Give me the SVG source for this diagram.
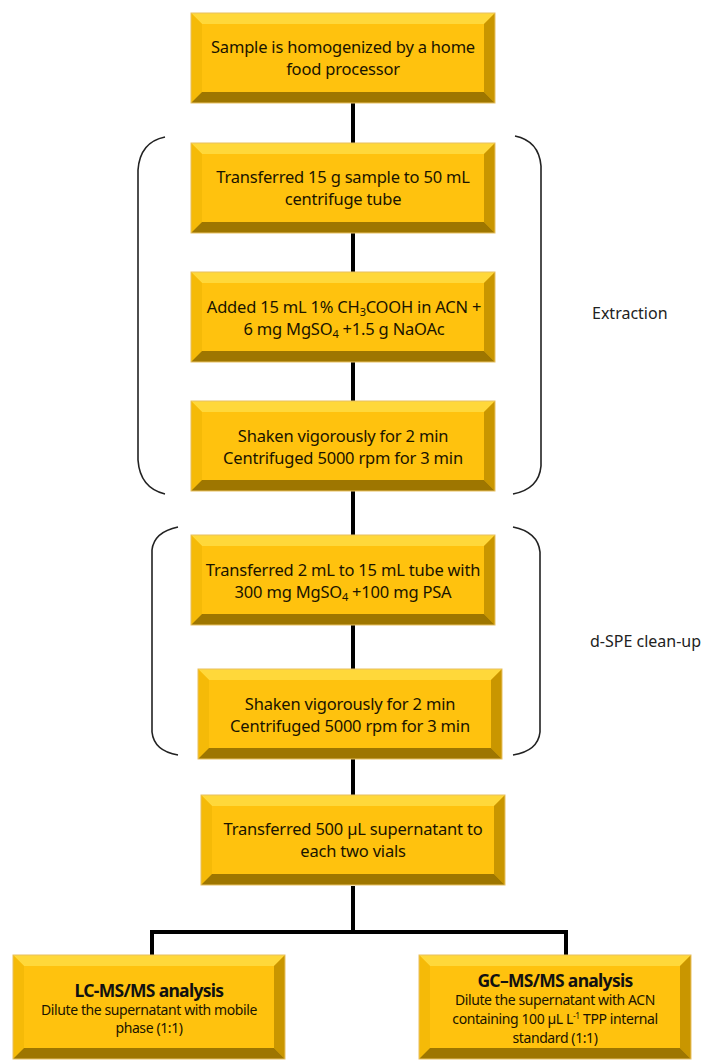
<svg xmlns="http://www.w3.org/2000/svg" xmlns:xlink="http://www.w3.org/1999/xlink" width="705" height="1061" viewBox="0 0 705 1061">
<style>
.t{font-family:"Noto Sans","DejaVu Sans",sans-serif;font-size:16.5px;fill:#1a1400;text-anchor:middle;letter-spacing:-0.2px}
.s{font-family:"Noto Sans","DejaVu Sans",sans-serif;font-size:14px;fill:#1a1400;text-anchor:middle;letter-spacing:-0.4px}
.h{font-family:"Noto Sans","DejaVu Sans",sans-serif;font-size:17.5px;font-weight:bold;fill:#111;text-anchor:middle;letter-spacing:-0.7px}
.lab{font-family:"Noto Sans","DejaVu Sans",sans-serif;font-size:16px;fill:#222}
.face{fill:#FFC20E}
.bt{fill:#FFD83A}
.bl{fill:#F5BA08}
.br{fill:#C99600}
.bb{fill:#9E7600}
.edge{fill:none;stroke:#E8C060;stroke-width:1}
.con{stroke:#000;stroke-width:4;fill:none}
.brk{stroke:#222;stroke-width:1.6;fill:none}
</style>
<defs>
<g id="bx">
<rect class="face" x="0" y="0" width="304" height="90"/>
<polygon class="bt" points="0,0 304,0 293,11 11,11"/>
<polygon class="bl" points="0,0 11,11 11,79 0,90"/>
<polygon class="br" points="304,0 304,90 293,79 293,11"/>
<polygon class="bb" points="0,90 11,79 293,79 304,90"/>
<rect class="edge" x="0" y="0" width="304" height="90"/>
</g>
<g id="bxb">
<rect class="face" x="0" y="0" width="272" height="104"/>
<polygon class="bt" points="0,0 272,0 261,11 11,11"/>
<polygon class="bl" points="0,0 11,11 11,93 0,104"/>
<polygon class="br" points="272,0 272,104 261,93 261,11"/>
<polygon class="bb" points="0,104 11,93 261,93 272,104"/>
<rect class="edge" x="0" y="0" width="272" height="104"/>
</g>
</defs>
<rect width="705" height="1061" fill="#fff"/>
<g id="connectors">
<line class="con" x1="353" y1="103" x2="353" y2="143"/>
<line class="con" x1="353" y1="233" x2="353" y2="272"/>
<line class="con" x1="353" y1="362" x2="353" y2="401"/>
<line class="con" x1="353" y1="491" x2="353" y2="535"/>
<line class="con" x1="353" y1="625" x2="353" y2="669"/>
<line class="con" x1="353" y1="759" x2="353" y2="795"/>
<line class="con" x1="353" y1="886" x2="353" y2="932"/>
<polyline class="con" points="152,955 152,932 566,932 566,955"/>
</g>
<g id="brackets">
<path class="brk" d="M165,137 Q140,142 138,170 L138,460 Q140,488 165,494"/>
<path class="brk" d="M515,136 Q539,141 541,166 L541,466 Q539,489 513,494"/>
<path class="brk" d="M178,527 Q154,532 152,550 L152,732 Q154,751 178,755"/>
<path class="brk" d="M513,527 Q538,532 540,552 L540,732 Q538,751 513,755"/>
</g>
<g id="label-extraction"><text class="lab" x="592" y="319">Extraction</text></g>
<g id="label-dspe"><text class="lab" x="590" y="647">d-SPE clean-up</text></g>
<g id="n1"><use xlink:href="#bx" x="191" y="13"/>
<text class="t" x="343" y="53">Sample is homogenized by a home</text>
<text class="t" x="343" y="75">food processor</text></g>
<g id="n2"><use xlink:href="#bx" x="191" y="143"/>
<text class="t" x="343" y="183">Transferred 15 g sample to 50 mL</text>
<text class="t" x="343" y="205">centrifuge tube</text></g>
<g id="n3"><use xlink:href="#bx" x="191" y="272"/>
<text class="t" x="344" y="313">Added 15 mL 1% CH<tspan font-size="11" dy="3">3</tspan><tspan dy="-3">COOH in ACN +</tspan></text>
<text class="t" x="344" y="335">6 mg MgSO<tspan font-size="11" dy="3">4</tspan><tspan dy="-3"> +1.5 g NaOAc</tspan></text></g>
<g id="n4"><use xlink:href="#bx" x="191" y="401"/>
<text class="t" x="343" y="442">Shaken vigorously for 2 min</text>
<text class="t" x="343" y="464">Centrifuged 5000 rpm for 3 min</text></g>
<g id="n5"><use xlink:href="#bx" x="191" y="535"/>
<text class="t" x="343" y="576">Transferred 2 mL to 15 mL tube with</text>
<text class="t" x="343" y="598">300 mg MgSO<tspan font-size="11" dy="3">4</tspan><tspan dy="-3"> +100 mg PSA</tspan></text></g>
<g id="n6"><use xlink:href="#bx" x="198" y="669"/>
<text class="t" x="350" y="710">Shaken vigorously for 2 min</text>
<text class="t" x="350" y="732">Centrifuged 5000 rpm for 3 min</text></g>
<g id="n7"><use xlink:href="#bx" x="201" y="795"/>
<text class="t" x="353" y="835">Transferred 500 µL supernatant to</text>
<text class="t" x="353" y="857">each two vials</text></g>
<g id="n8"><use xlink:href="#bxb" x="13" y="955"/>
<text class="h" x="149" y="997">LC-MS/MS analysis</text>
<text class="s" x="149" y="1015">Dilute the supernatant with mobile</text>
<text class="s" x="149" y="1033">phase (1:1)</text></g>
<g id="n9"><use xlink:href="#bxb" x="419" y="955"/>
<text class="h" x="555" y="987">GC–MS/MS analysis</text>
<text class="s" x="555" y="1005">Dilute the supernatant with ACN</text>
<text class="s" x="555" y="1024">containing 100 µL L<tspan font-size="8.5" dy="-5">-1</tspan><tspan dy="5"> TPP internal</tspan></text>
<text class="s" x="555" y="1043">standard (1:1)</text></g>
</svg>
